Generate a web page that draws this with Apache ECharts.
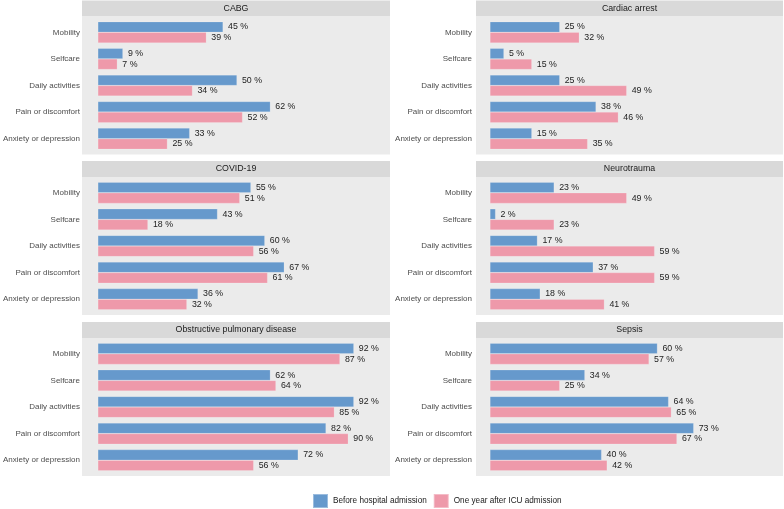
<!DOCTYPE html>
<html>
<head>
<meta charset="utf-8">
<script src="https://cdn.jsdelivr.net/npm/echarts@6/dist/echarts.min.js"></script>
<style>html,body{margin:0;padding:0;background:#fff}#c{width:784px;height:509px}</style>
</head>
<body>
<div id="c"></div>
<script>
var categories = ['Mobility', 'Selfcare', 'Daily activities', 'Pain or discomfort', 'Anxiety or depression'];
var panels = ['CABG', 'Cardiac arrest', 'COVID-19', 'Neurotrauma', 'Obstructive pulmonary disease', 'Sepsis'];
var seriesNames = ['Before hospital admission', 'One year after ICU admission'];
var before = {
  'CABG': [45, 9, 50, 62, 33],
  'Cardiac arrest': [25, 5, 25, 38, 15],
  'COVID-19': [55, 43, 60, 67, 36],
  'Neurotrauma': [23, 2, 17, 37, 18],
  'Obstructive pulmonary disease': [92, 62, 92, 82, 72],
  'Sepsis': [60, 34, 64, 73, 40]
};
var after = {
  'CABG': [39, 7, 34, 52, 25],
  'Cardiac arrest': [32, 15, 49, 46, 35],
  'COVID-19': [51, 18, 56, 61, 32],
  'Neurotrauma': [49, 23, 59, 59, 41],
  'Obstructive pulmonary disease': [87, 64, 85, 90, 56],
  'Sepsis': [57, 25, 65, 67, 42]
};

var colors = ['#6699CC', '#EE99AA'];
var FONT = "'Liberation Sans', Arial, sans-serif";
var colLeft = [82, 476], colWidth = [308, 307];
var stripTop = [0.5, 161, 322], stripH = 16, panelH = 138, inset = 2.5;

var grids = [], xAxes = [], yAxes = [], series = [], graphics = [];
panels.forEach(function (p, i) {
  var col = i % 2, row = Math.floor(i / 2);
  var L = colLeft[col], W = colWidth[col], T = stripTop[row];
  graphics.push({type: 'rect', shape: {x: L, y: T, width: W, height: stripH}, style: {fill: '#D9D9D9'}, z: -10});
  graphics.push({type: 'rect', shape: {x: L, y: T + stripH, width: W, height: panelH}, style: {fill: '#EBEBEB'}, z: -10});
  graphics.push({type: 'text', x: L + W / 2, y: T + stripH / 2, style: {text: p, fill: '#1A1A1A', font: '8.8px ' + FONT, align: 'center', verticalAlign: 'middle'}, z: 5});
  grids.push({left: L, top: T + stripH + inset, width: W, height: panelH - 2 * inset, containLabel: false});
  xAxes.push({type: 'value', gridIndex: i, min: -5, max: 105, show: false, splitLine: {show: false}});
  yAxes.push({type: 'category', gridIndex: i, data: categories, inverse: true,
    axisLine: {show: false, onZero: false}, axisTick: {show: false}, splitLine: {show: false},
    axisLabel: {margin: 4, fontSize: 8, fontFamily: FONT, color: '#4D4D4D'}});
  [before[p], after[p]].forEach(function (vals, s) {
    series.push({
      type: 'bar', name: seriesNames[s], xAxisIndex: i, yAxisIndex: i, data: vals,
      barWidth: 10.6, barGap: '0%',
      itemStyle: {color: colors[s], borderColor: 'rgba(255,255,255,0.35)', borderWidth: 0.5},
      label: {show: true, position: 'right', distance: 5, formatter: '{c} %', fontSize: 8.8, fontFamily: FONT, color: '#222'},
      silent: true, animation: false
    });
  });
});

var chart = echarts.init(document.getElementById('c'), null, {renderer: 'canvas'});
chart.setOption({
  animation: false,
  grid: grids, xAxis: xAxes, yAxis: yAxes, series: series,
  graphic: graphics,
  legend: {
    data: seriesNames, left: 307, top: 488, padding: 5, itemWidth: 15, itemHeight: 14, itemGap: 6,
    icon: 'rect', selectedMode: false,
    textStyle: {fontSize: 8.2, fontFamily: FONT, color: '#1A1A1A'}
  }
});
</script>
</body>
</html>
